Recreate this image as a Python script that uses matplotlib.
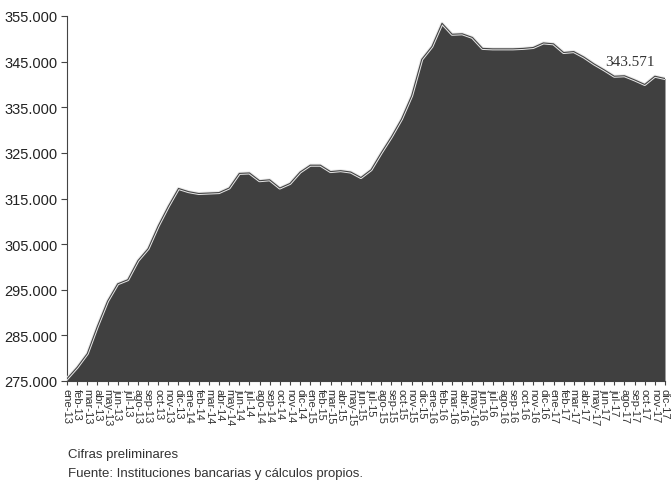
import matplotlib
matplotlib.use("Agg")
import matplotlib.pyplot as plt
import matplotlib.transforms as mtransforms
import numpy as np

months = ["ene-13","feb-13","mar-13","abr-13","may-13","jun-13","jul-13","ago-13","sep-13","oct-13","nov-13","dic-13",
          "ene-14","feb-14","mar-14","abr-14","may-14","jun-14","jul-14","ago-14","sep-14","oct-14","nov-14","dic-14",
          "ene-15","feb-15","mar-15","abr-15","may-15","jun-15","jul-15","ago-15","sep-15","oct-15","nov-15","dic-15",
          "ene-16","feb-16","mar-16","abr-16","may-16","jun-16","jul-16","ago-16","sep-16","oct-16","nov-16","dic-16",
          "ene-17","feb-17","mar-17","abr-17","may-17","jun-17","jul-17","ago-17","sep-17","oct-17","nov-17","dic-17"]

values = [275.5, 278.0, 281.0, 287.0, 292.5, 296.3, 297.2, 301.4, 304.0, 309.0, 313.3, 317.2,
          316.5, 316.1, 316.2, 316.3, 317.3, 320.5, 320.6, 318.9, 319.1, 317.3, 318.3, 320.8,
          322.3, 322.3, 320.9, 321.1, 320.8, 319.6, 321.3, 325.0, 328.5, 332.4, 337.5, 345.5,
          348.3, 353.4, 351.0, 351.1, 350.3, 347.9, 347.8, 347.8, 347.8, 347.9, 348.1, 349.1,
          348.9, 347.0, 347.2, 346.0, 344.5, 343.2, 341.8, 341.9, 341.0, 340.0, 341.8, 341.3]

yticks = [275, 285, 295, 305, 315, 325, 335, 345, 355]
ytick_labels = ["275.000", "285.000", "295.000", "305.000", "315.000", "325.000", "335.000", "345.000", "355.000"]

annot_text = "343.571"
note1 = "Cifras preliminares"
note2 = "Fuente: Instituciones bancarias y cálculos propios."

plt.rcParams['font.family'] = ['Liberation Sans', 'DejaVu Sans']

fig = plt.figure(figsize=(6.71, 4.85), dpi=100)
ax = fig.add_axes([67/671, 103/485, 598/671, 365/485])

x = np.arange(len(values))
ax.fill_between(x, 275, values, color='#404040', linewidth=0)
ax.plot(x, values, color='#e8e8e8', linewidth=2.2, zorder=3)
ax.plot(x, values, color='#444444', linewidth=0.8, zorder=4)

ax.set_xlim(0, len(values) - 1)
ax.set_ylim(275, 355)
ax.set_yticks(yticks)
ax.set_yticklabels(ytick_labels, fontsize=10.5, color='#222222')
ax.set_xticks(x)
ax.set_xticklabels(months, rotation=-90, fontsize=8, color='#333333', va='top', ha='center')

for s in ['top', 'right']:
    ax.spines[s].set_visible(False)
ax.spines['left'].set_color('#444444')
ax.spines['bottom'].set_color('#444444')
ax.tick_params(axis='y', length=4, color='#444444', pad=3)
ax.tick_params(axis='x', length=3, color='#444444', pad=2)

ax.text(53.1, 345.1, annot_text, fontsize=11, family=['Liberation Serif', 'DejaVu Serif'],
        color='#333333', ha='left', va='center', clip_on=False)

fig.text(68/671, 1 - 455/485, note1, fontsize=9.5, color='#333333', va='center', ha='left')
fig.text(68/671, 1 - 474/485, note2, fontsize=9.5, color='#333333', va='center', ha='left')

fig.savefig("out.png", dpi=100)
